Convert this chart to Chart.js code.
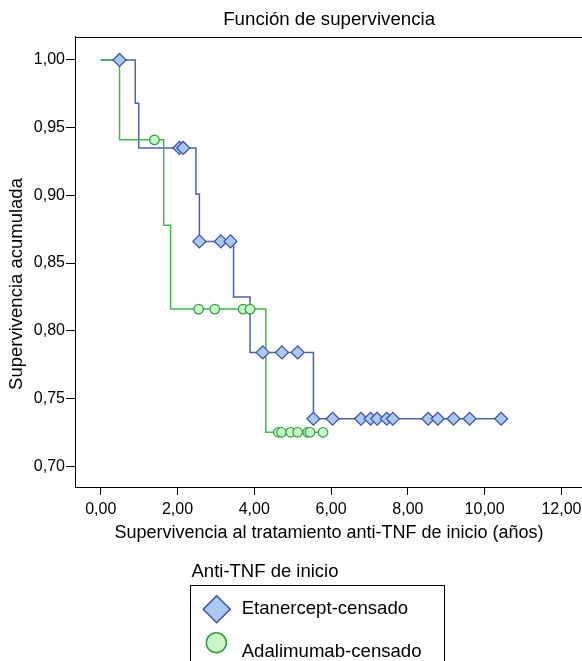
<html>
  <head>
    <meta charset="utf-8" />
    <script src="https://cdn.jsdelivr.net/npm/chart.js"></script>
    <style>
      body {
        margin: 0;
        background: #fff;
        overflow: hidden;
      }
    </style>
  </head>
  <body>
    <!-- a bit wider than the window so the right frame edge falls outside it -->
    <canvas id="km_chart" width="591" height="661"></canvas>
    <script>
      // Texts
      const chart_title = "Función de supervivencia";
      const x_title = "Supervivencia al tratamiento anti-TNF de inicio (años)";
      const y_title = "Supervivencia acumulada";
      const legend_title = "Anti-TNF de inicio";
      const series_labels = ["Etanercept-censado", "Adalimumab-censado"];

      // Tick labels
      const x_ticks = [0, 2, 4, 6, 8, 10, 12];
      const y_ticks = [0.7, 0.75, 0.8, 0.85, 0.9, 0.95, 1.0];

      // Etanercept: step times and survival after each step
      const eta_times = [0, 0.9, 0.99, 2.48, 2.57, 3.46, 3.89, 5.54, 10.43];
      const eta_surv = [1, 0.968, 0.935, 0.901, 0.866, 0.825, 0.784, 0.735, 0.735];
      // Etanercept: censored cases
      const eta_cens_times = [
        0.49, 2.05, 2.15, 2.57, 3.13, 3.38, 4.22, 4.72, 5.13, 5.54, 6.04, 6.78,
        7.03, 7.2, 7.45, 7.61, 8.53, 8.78, 9.19, 9.61, 10.43,
      ];
      const eta_cens_surv = [
        1, 0.935, 0.935, 0.866, 0.866, 0.866, 0.784, 0.784, 0.784, 0.735, 0.735,
        0.735, 0.735, 0.735, 0.735, 0.735, 0.735, 0.735, 0.735, 0.735, 0.735,
      ];

      // Adalimumab: step times and survival after each step
      const ada_times = [0, 0.49, 1.64, 1.82, 4.3, 5.79];
      const ada_surv = [1, 0.941, 0.878, 0.816, 0.725, 0.725];
      // Adalimumab: censored cases
      const ada_cens_times = [
        1.4, 2.55, 2.97, 3.71, 3.89, 4.63, 4.71, 4.95, 5.13, 5.39, 5.45, 5.79,
      ];
      const ada_cens_surv = [
        0.941, 0.816, 0.816, 0.816, 0.816, 0.725, 0.725, 0.725, 0.725, 0.725,
        0.725, 0.725,
      ];

      // Colours
      const eta_line = "#4c60b2";
      const eta_fill = "#a9c9ee";
      const eta_edge = "#3b4fa6";
      const ada_line = "#3dba4e";
      const ada_fill = "#c9f5c9";
      const ada_edge = "#2e9e3e";

      const font_family = "'Liberation Sans', Arial, Helvetica, sans-serif";

      function to_points(xs, ys) {
        return xs.map((x, i) => ({ x: x, y: ys[i] }));
      }

      function fmt(v) {
        return v.toFixed(2).replace(".", ",");
      }

      function draw_diamond(ctx, x, y, r) {
        ctx.beginPath();
        ctx.moveTo(x, y - r);
        ctx.lineTo(x + r, y);
        ctx.lineTo(x, y + r);
        ctx.lineTo(x - r, y);
        ctx.closePath();
      }

      // Top frame line, axis titles and legend
      const extras = {
        id: "extras",
        afterDraw(chart) {
          const ctx = chart.ctx;
          const area = chart.chartArea;
          ctx.save();
          ctx.strokeStyle = "#000";
          ctx.lineWidth = 1;
          ctx.beginPath();
          ctx.moveTo(area.left, Math.round(area.top) + 0.5);
          ctx.lineTo(area.right, Math.round(area.top) + 0.5);
          ctx.stroke();

          ctx.fillStyle = "#000";
          ctx.textAlign = "center";
          ctx.textBaseline = "middle";
          ctx.font = "18px " + font_family;
          ctx.fillText(x_title, 329, 533);

          ctx.save();
          ctx.translate(17, 284);
          ctx.rotate(-Math.PI / 2);
          ctx.font = "18.5px " + font_family;
          ctx.fillText(y_title, 0, 0);
          ctx.restore();

          // Legend
          ctx.textAlign = "left";
          ctx.textBaseline = "alphabetic";
          ctx.font = "18.5px " + font_family;
          ctx.fillText(legend_title, 191.5, 577);
          ctx.strokeRect(190.5, 585.5, 254, 120);

          ctx.lineWidth = 1.5;
          draw_diamond(ctx, 216.7, 609.3, 13.5);
          ctx.fillStyle = eta_fill;
          ctx.fill();
          ctx.strokeStyle = eta_edge;
          ctx.stroke();

          ctx.beginPath();
          ctx.arc(216.3, 642.7, 10, 0, Math.PI * 2);
          ctx.fillStyle = ada_fill;
          ctx.fill();
          ctx.strokeStyle = ada_edge;
          ctx.stroke();

          ctx.fillStyle = "#000";
          ctx.font = "18.6px " + font_family;
          ctx.fillText(series_labels[0], 241.7, 614);
          ctx.fillText(series_labels[1], 241.7, 656.7);
          ctx.restore();
        },
      };

      const km_chart = new Chart("km_chart", {
        type: "line",
        data: {
          datasets: [
            {
              label: series_labels[0],
              data: to_points(eta_cens_times, eta_cens_surv),
              showLine: false,
              pointStyle: "rectRot",
              pointRadius: 6.5,
              pointBorderWidth: 1.2,
              pointBackgroundColor: eta_fill,
              pointBorderColor: eta_edge,
            },
            {
              label: series_labels[1],
              data: to_points(ada_cens_times, ada_cens_surv),
              showLine: false,
              pointStyle: "circle",
              pointRadius: 4.8,
              pointBorderWidth: 1.2,
              pointBackgroundColor: ada_fill,
              pointBorderColor: ada_edge,
            },
            {
              label: "Adalimumab",
              data: to_points(ada_times, ada_surv),
              stepped: "before",
              borderColor: ada_line,
              borderWidth: 1.5,
              pointRadius: 0,
              fill: false,
            },
            {
              label: "Etanercept",
              data: to_points(eta_times, eta_surv),
              stepped: "before",
              borderColor: eta_line,
              borderWidth: 1.5,
              pointRadius: 0,
              fill: false,
            },
          ],
        },
        plugins: [extras],
        options: {
          responsive: false,
          animation: false,
          layout: {
            padding: { left: 0, right: 0, top: 0, bottom: 114 },
          },
          plugins: {
            legend: { display: false },
            tooltip: { enabled: false },
            title: {
              display: true,
              text: chart_title,
              fullSize: false,
              color: "#000",
              font: { size: 18.7, family: font_family, weight: "normal" },
              padding: { top: 9, bottom: 5.5 },
            },
          },
          scales: {
            x: {
              type: "linear",
              min: -0.67,
              max: 12.57,
              afterBuildTicks: (scale) => {
                scale.ticks = x_ticks.map((v) => ({ value: v }));
              },
              afterFit: (scale) => {
                scale.height = 60;
                scale.paddingLeft = 0;
                scale.paddingRight = 0;
              },
              grid: { drawOnChartArea: false, tickLength: 8, color: "#000" },
              border: { color: "#000", width: 1 },
              ticks: {
                color: "#000",
                padding: 5,
                maxRotation: 0,
                font: { size: 16, family: font_family },
                callback: (v) => fmt(v),
              },
            },
            y: {
              type: "linear",
              min: 0.6846,
              max: 1.017,
              afterBuildTicks: (scale) => {
                scale.ticks = y_ticks.map((v) => ({ value: v }));
              },
              afterFit: (scale) => {
                scale.width = 75;
                scale.paddingTop = 0;
                scale.paddingBottom = 0;
              },
              grid: { drawOnChartArea: false, tickLength: 9, color: "#000" },
              border: { color: "#000", width: 1 },
              ticks: {
                color: "#000",
                padding: 1,
                font: { size: 16, family: font_family },
                callback: (v) => fmt(v),
              },
            },
          },
        },
      });
    </script>
  </body>
</html>
